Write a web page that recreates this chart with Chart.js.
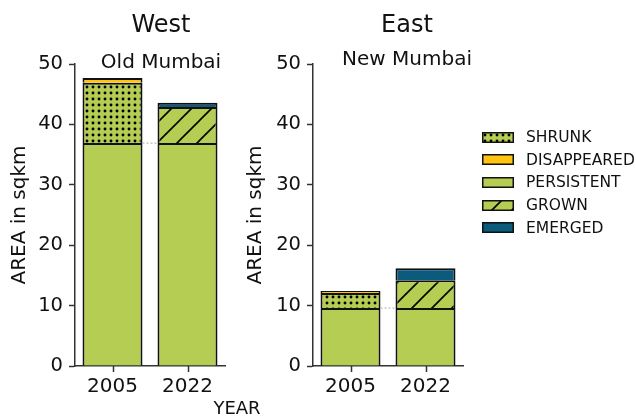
<!DOCTYPE html>
<html>
<head>
<meta charset="utf-8">
<script src="https://cdn.jsdelivr.net/npm/chart.js@4.4.1/dist/chart.umd.min.js"></script>
<style>
  body { margin: 0; background: #fff; font-family: "DejaVu Sans", sans-serif; color: #111; }
  #wrap { position: relative; width: 636px; height: 416px; overflow: hidden; }
  .box { position: absolute; top: 0; width: 240px; height: 416px; }
  .txt { position: absolute; white-space: nowrap; transform: translate(-50%, -50%); }
  .big { font-size: 24px; }
  .sub { font-size: 20px; }
  #legend { position: absolute; left: 482px; top: 126px; font-size: 15.5px; }
  #legend .row { display: flex; align-items: center; height: 22.6px; }
  #legend canvas { display: block; margin-right: 12px; }
</style>
</head>
<body>
<div id="wrap">
  <div class="box" style="left:0"><canvas id="west"></canvas></div>
  <div class="box" style="left:240px"><canvas id="east"></canvas></div>
  <div class="txt big" style="left:161px;top:24px">West</div>
  <div class="txt sub" style="left:161px;top:61px">Old Mumbai</div>
  <div class="txt big" style="left:407px;top:24px">East</div>
  <div class="txt sub" style="left:407px;top:58px">New Mumbai</div>
  <div class="txt" style="left:237px;top:407px;font-size:18px">YEAR</div>
  <div id="legend"></div>
</div>
<script>
var years = ['2005', '2022'];
var yTicks = [0, 10, 20, 30, 40, 50];

// West (Old Mumbai), sqkm
var westPersistent  = [36.9, 36.9];
var westShrunk      = [10.0, null];
var westGrown       = [null, 6.0];
var westDisappeared = [0.8, null];
var westEmerged     = [null, 0.7];

// East (New Mumbai), sqkm
var eastPersistent  = [9.6, 9.6];
var eastShrunk      = [2.5, null];
var eastGrown       = [null, 4.6];
var eastDisappeared = [0.3, null];
var eastEmerged     = [null, 2.0];

var legendOrder = ['SHRUNK', 'DISAPPEARED', 'PERSISTENT', 'GROWN', 'EMERGED'];

var GREEN = '#b4cd52';
var YELLOW = '#ffc410';
var BLUE = '#0c5a7c';
var FONT = '"DejaVu Sans", sans-serif';

function dotPattern() {
  var c = document.createElement('canvas');
  c.width = 6; c.height = 6;
  var g = c.getContext('2d');
  g.fillStyle = GREEN; g.fillRect(0, 0, 6, 6);
  g.fillStyle = '#000';
  g.beginPath(); g.arc(3, 3, 1.45, 0, Math.PI * 2); g.fill();
  return g.createPattern(c, 'repeat');
}

function hatchPattern() {
  var s = 20;
  var c = document.createElement('canvas');
  c.width = s; c.height = s;
  var g = c.getContext('2d');
  g.fillStyle = GREEN; g.fillRect(0, 0, s, s);
  g.strokeStyle = '#000'; g.lineWidth = 1.6;
  g.beginPath();
  g.moveTo(-2, s + 2); g.lineTo(s + 2, -2);
  g.moveTo(-4, 4); g.lineTo(4, -4);
  g.moveTo(s - 4, s + 4); g.lineTo(s + 4, s - 4);
  g.stroke();
  return g.createPattern(c, 'repeat');
}

var fills = {
  PERSISTENT: GREEN,
  SHRUNK: dotPattern(),
  GROWN: hatchPattern(),
  DISAPPEARED: YELLOW,
  EMERGED: BLUE
};

function bars(label, data) {
  return {
    label: label,
    data: data,
    backgroundColor: fills[label],
    borderColor: '#111',
    // no bottom edge so stacked segments share a single dividing line
    borderWidth: { top: 2, left: 2, right: 2, bottom: 0 },
    borderSkipped: false,
    barPercentage: 0.8,
    categoryPercentage: 1.0
  };
}

// dotted guide joining the persistent tops, plus x tick marks under each year
var extras = {
  id: 'extras',
  afterDatasetsDraw: function(chart) {
    var meta = chart.getDatasetMeta(0);
    var a = meta.data[0], b = meta.data[1];
    var ctx = chart.ctx;
    ctx.save();
    ctx.strokeStyle = '#aaa';
    ctx.lineWidth = 1;
    ctx.setLineDash([2, 2]);
    ctx.beginPath();
    ctx.moveTo(a.x + a.width / 2, a.y);
    ctx.lineTo(b.x - b.width / 2, b.y);
    ctx.stroke();

    var xs = chart.scales.x;
    var y0 = chart.chartArea.bottom;
    ctx.setLineDash([]);
    ctx.strokeStyle = '#333';
    ctx.lineWidth = 1.5;
    ctx.beginPath();
    years.forEach(function(_, i) {
      var x = Math.round(xs.getPixelForTick(i)) + 0.5;
      ctx.moveTo(x, y0);
      ctx.lineTo(x, y0 + 6);
    });
    ctx.stroke();
    ctx.restore();
  }
};

function makeChart(id, sets, padLeft, yWidth, padRight) {
  return new Chart(document.getElementById(id), {
    type: 'bar',
    data: {
      labels: years,
      datasets: [
        bars('PERSISTENT', sets.persistent),
        bars('SHRUNK', sets.shrunk),
        bars('GROWN', sets.grown),
        bars('DISAPPEARED', sets.disappeared),
        bars('EMERGED', sets.emerged)
      ]
    },
    plugins: [extras],
    options: {
      responsive: true,
      maintainAspectRatio: false,
      animation: false,
      layout: { padding: { left: padLeft, right: padRight, top: 64, bottom: 0 } },
      plugins: { legend: { display: false }, tooltip: { enabled: false } },
      scales: {
        x: {
          stacked: true,
          border: { color: '#333', width: 1.5 },
          grid: { display: false },
          ticks: { color: '#111', font: { family: FONT, size: 20 }, padding: 1 },
          afterFit: function(s) { s.height = 50; }
        },
        y: {
          stacked: true,
          min: 0,
          max: 50,
          afterBuildTicks: function(s) { s.ticks = yTicks.map(function(v) { return { value: v }; }); },
          border: { color: '#333', width: 1.5 },
          grid: { drawOnChartArea: false, tickLength: 6, tickColor: '#333', tickWidth: 1.5 },
          ticks: { color: '#111', font: { family: FONT, size: 19.5 }, padding: 6 },
          title: { display: true, text: 'AREA in sqkm', color: '#111', font: { family: FONT, size: 20 }, padding: { top: 4, bottom: 0 } },
          afterFit: function(s) { s.width = yWidth; }
        }
      }
    }
  });
}

makeChart('west', {
  persistent: westPersistent, shrunk: westShrunk, grown: westGrown,
  disappeared: westDisappeared, emerged: westEmerged
}, 4, 71, 15);

makeChart('east', {
  persistent: eastPersistent, shrunk: eastShrunk, grown: eastGrown,
  disappeared: eastDisappeared, emerged: eastEmerged
}, 0, 73, 17);

// legend rows with swatches painted in the same fills as the bars
var legend = document.getElementById('legend');
legendOrder.forEach(function(name) {
  var row = document.createElement('div');
  row.className = 'row';
  var sw = document.createElement('canvas');
  sw.width = 32; sw.height = 11;
  var g = sw.getContext('2d');
  g.fillStyle = fills[name];
  g.fillRect(0, 0, 32, 11);
  g.strokeStyle = '#111'; g.lineWidth = 1.5;
  g.strokeRect(0.75, 0.75, 30.5, 9.5);
  var label = document.createElement('span');
  label.textContent = name;
  row.appendChild(sw);
  row.appendChild(label);
  legend.appendChild(row);
});
</script>
</body>
</html>
